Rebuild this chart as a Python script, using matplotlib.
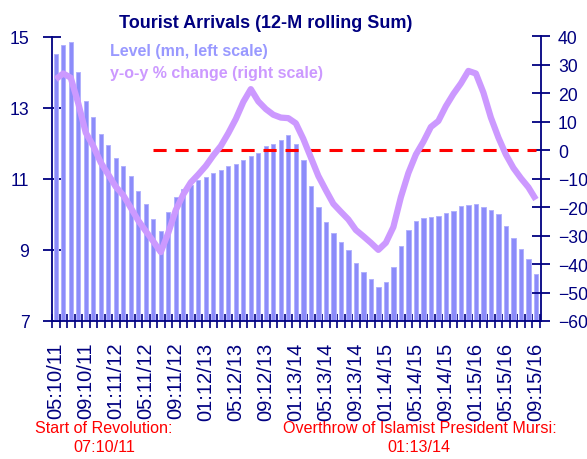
import matplotlib
matplotlib.use("Agg")
import matplotlib.pyplot as plt
import numpy as np

plt.rcParams['font.family'] = ['Liberation Sans', 'DejaVu Sans']

# Level (mn, left scale) - 12-month rolling sum of tourist arrivals
level = [14.52, 14.76, 14.85, 14.00, 13.19, 12.74, 12.25, 11.95, 11.58, 11.36,
         11.08, 10.66, 10.29, 9.86, 9.53, 10.07, 10.48, 10.72, 10.83, 10.97,
         11.05, 11.17, 11.26, 11.35, 11.42, 11.54, 11.63, 11.73, 11.91, 11.97,
         12.10, 12.22, 11.99, 11.52, 10.81, 10.21, 9.78, 9.48, 9.22, 8.99,
         8.63, 8.38, 8.17, 7.97, 8.10, 8.53, 9.12, 9.56, 9.80, 9.89,
         9.93, 9.95, 10.03, 10.09, 10.22, 10.25, 10.28, 10.20, 10.12, 10.01,
         9.68, 9.34, 9.02, 8.73, 8.33]

# y-o-y % change (right scale)
yoy = [25.0, 27.0, 25.5, 16.5, 6.2, 1.5, -4.3, -8.5, -12.8, -15.8,
       -20.2, -24.7, -28.4, -32.0, -35.8, -29.0, -21.0, -15.5, -11.3, -8.5,
       -5.5, -1.8, 1.5, 6.0, 11.0, 17.0, 21.5, 17.2, 14.5, 12.5,
       11.5, 11.3, 9.5, 4.0, -2.5, -9.0, -14.0, -18.8, -21.6, -24.3,
       -28.0, -30.2, -32.5, -35.0, -32.5, -27.0, -16.5, -8.0, -1.5, 3.0,
       8.2, 10.3, 15.5, 19.8, 23.5, 27.9, 27.0, 20.3, 11.5, 4.5,
       -1.5, -6.2, -9.8, -13.0, -17.3]

# zero reference line (right scale), drawn from the 14th month on
zero_start = 13
zero_value = 0

tick_labels = ["05:10/11", "09:10/11", "01:11/12", "05:11/12", "09:11/12",
               "01:12/13", "05:12/13", "09:12/13", "01:13/14", "05:13/14",
               "09:13/14", "01:14/15", "05:14/15", "09:14/15", "01:15/16",
               "05:15/16", "09:15/16"]
label_step = 4

navy = '#000080'
bar_color = '#8c8cfa'
line_color = '#cc99ff'

fig = plt.figure(figsize=(5.87, 4.60), dpi=100)
ax = fig.add_axes([52/587, 1-322/460, (541-52)/587, (322-37.5)/460])
ax2 = ax.twinx()

x = np.arange(len(level))
ax.bar(x, level, width=0.58, color=bar_color, edgecolor='#b2b2fc', linewidth=0.7, zorder=2)
ax.set_ylim(7, 15)
ax.set_yticks([7, 9, 11, 13, 15])
ax.set_xlim(-0.42, len(level) - 1 + 0.68)

xz = x[zero_start:]
ax2.plot(xz, [zero_value] * len(xz), color='#ff0000', lw=2.2,
         dashes=(4.3, 2.9), zorder=3)
ax2.plot(x, yoy, color=line_color, lw=4.5, solid_joinstyle='round',
         solid_capstyle='butt', zorder=4)
ax2.set_ylim(-60, 40)
ax2.set_yticks(np.arange(-60, 41, 10))

ax.set_zorder(1)
ax2.set_zorder(2)
ax.patch.set_visible(False)

# x ticks: labels at every 4th bar, tick marks at bar boundaries
ax.set_xticks(x[::label_step])
ax.set_xticklabels(tick_labels, rotation=90, fontsize=14.5, color=navy)
ax.set_xticks(np.arange(-0.5, len(level), 1), minor=True)
ax.tick_params(axis='x', which='major', length=0, pad=15)
ax.tick_params(axis='x', which='minor', length=10, direction='inout',
               color=navy, width=1.2)

ax.tick_params(axis='y', which='major', length=12.5, direction='inout',
               color=navy, width=1.3, labelsize=12.7, labelcolor=navy, pad=10)
ax2.tick_params(axis='y', which='major', length=12.5, direction='inout',
                color=navy, width=1.3, labelsize=12.7, labelcolor=navy, pad=6)

for a in (ax, ax2):
    a.spines['top'].set_visible(False)
    for s in ('left', 'right', 'bottom'):
        a.spines[s].set_color(navy)
        a.spines[s].set_linewidth(1.3)
ax.spines['right'].set_visible(False)
ax2.spines['left'].set_visible(False)
ax2.spines['bottom'].set_visible(False)

fig.text(266/587, 1-28/460, "Tourist Arrivals (12-M rolling Sum)", ha='center',
         va='baseline', fontsize=13, fontweight='bold', color=navy)
fig.text(110/587, 1-56/460, "Level (mn, left scale)", ha='left', va='baseline',
         fontsize=11.5, fontweight='bold', color='#9999ff')
fig.text(110/587, 1-78/460, "y-o-y % change (right scale)", ha='left', va='baseline',
         fontsize=11.5, fontweight='bold', color=line_color)

fig.text(104/587, 1-433/460, "Start of Revolution:", ha='center', va='baseline',
         fontsize=11.6, color='#ff0000')
fig.text(104/587, 1-452/460, "07:10/11", ha='center', va='baseline',
         fontsize=11.6, color='#ff0000')
fig.text(420/587, 1-433/460, "Overthrow of Islamist President Mursi:", ha='center',
         va='baseline', fontsize=11.6, color='#ff0000')
fig.text(419/587, 1-452/460, "01:13/14", ha='center', va='baseline',
         fontsize=11.6, color='#ff0000')

fig.savefig("out.png", dpi=100)
